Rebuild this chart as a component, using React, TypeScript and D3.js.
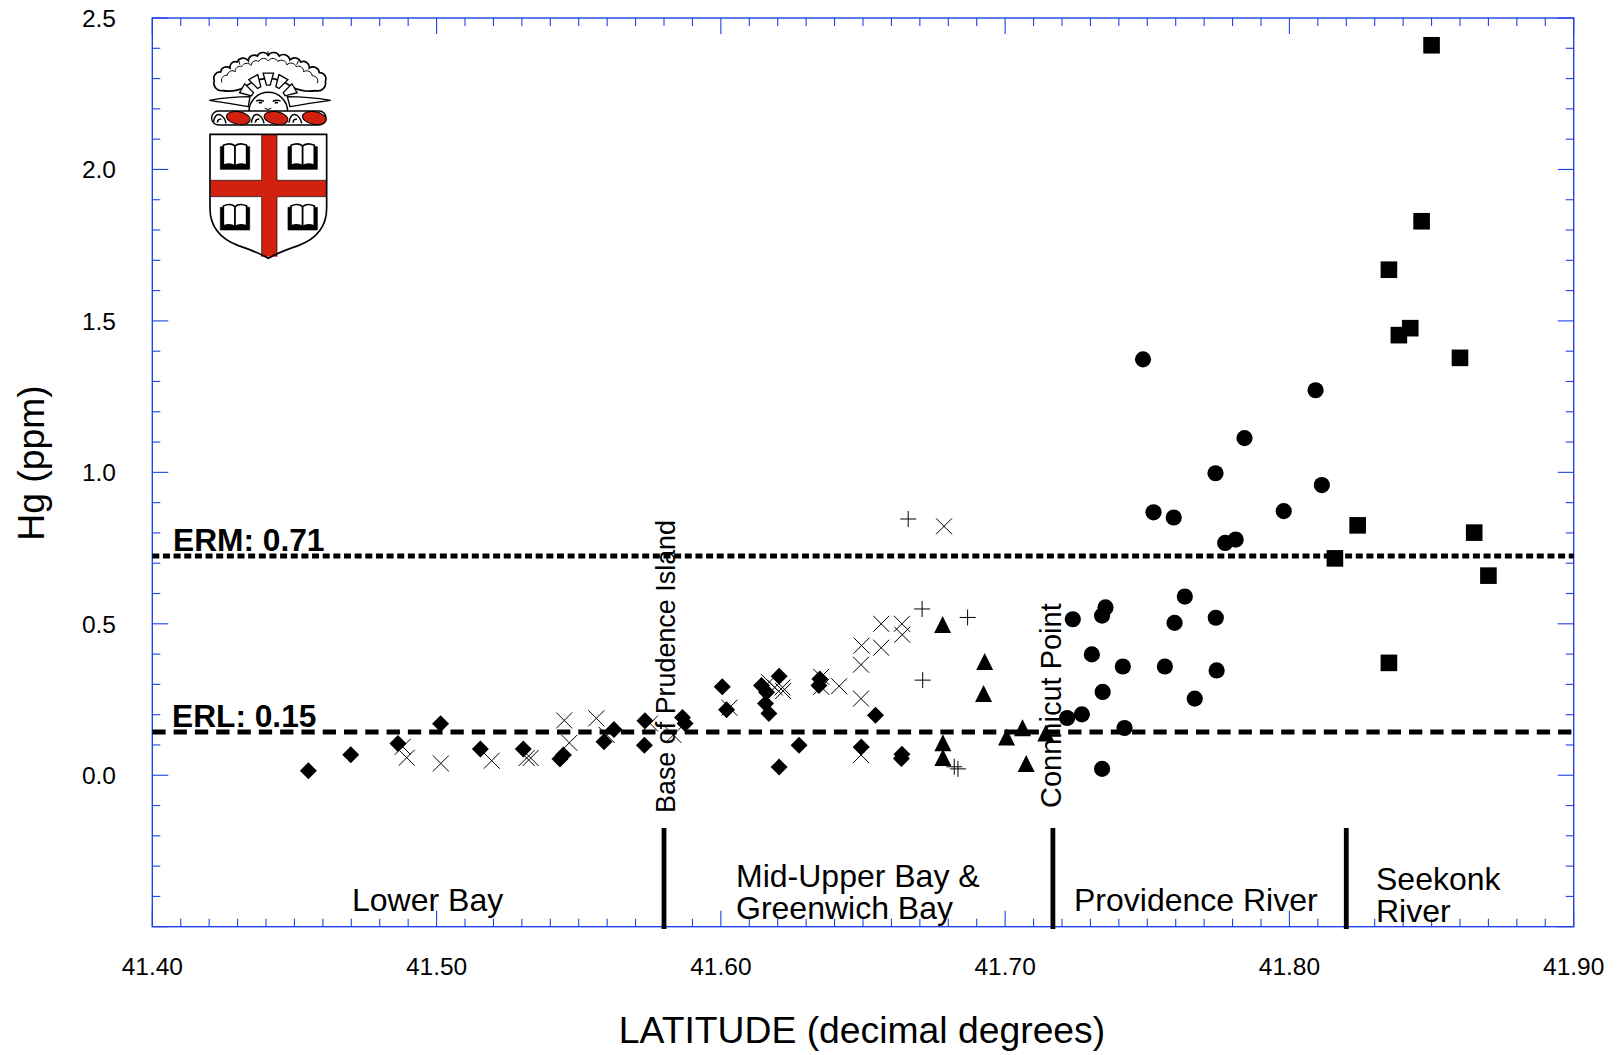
import React from "react";
import * as d3 from "d3";

const W = 1617, H = 1055;
const FONT = "'Liberation Sans', Arial, sans-serif";

const squareLat = [41.850,41.8465,41.835,41.8425,41.8385,41.860,41.824,41.816,41.865,41.870,41.835];
const squareHg = [2.410,1.829,1.669,1.476,1.453,1.378,0.825,0.716,0.801,0.659,0.371];

const circleLat = [41.7485,41.8092,41.7842,41.7740,41.8114,41.7980,41.7522,41.7593,41.7811,41.7774,41.7632,41.7353,41.7341,41.7238,41.7741,41.7596,41.7305,41.7414,41.7562,41.7744,41.7343,41.7667,41.7270,41.7218,41.7420,41.7341];
const circleHg = [1.373,1.271,1.113,0.997,0.958,0.872,0.868,0.851,0.778,0.767,0.590,0.554,0.527,0.515,0.520,0.503,0.399,0.359,0.359,0.346,0.275,0.253,0.201,0.189,0.156,0.021];

const triangleLat = [41.6780,41.6928,41.6924,41.7005,41.7061,41.7143,41.6781,41.6781,41.7074];
const triangleHg = [0.496,0.374,0.268,0.125,0.155,0.138,0.106,0.057,0.037];

const plusLat = [41.6659,41.6708,41.6868,41.6710,41.6821,41.6834];
const plusHg = [0.846,0.549,0.521,0.314,0.028,0.021];

const crossLat = [41.6785,41.6564,41.6637,41.6638,41.6495,41.6564,41.6493,41.6416,41.6353,41.6353,41.6493,41.6493,41.6030,41.6170,41.6190,41.6217,41.6219,41.4881,41.4895,41.5015,41.5194,41.5317,41.5331,41.5449,41.5467,41.5562,41.5598,41.5751,41.5833];
const crossHg = [0.822,0.500,0.500,0.464,0.428,0.421,0.365,0.294,0.325,0.292,0.253,0.067,0.223,0.307,0.290,0.290,0.278,0.094,0.058,0.039,0.048,0.057,0.057,0.181,0.107,0.188,0.133,0.171,0.133];

const diamondLat = [41.4549,41.4698,41.4864,41.5014,41.5154,41.5305,41.5446,41.5434,41.5589,41.5624,41.5733,41.5731,41.5865,41.5874,41.6005,41.6020,41.6143,41.6161,41.6157,41.6169,41.6205,41.6348,41.6345,41.6544,41.6275,41.6205,41.6494,41.6637,41.6635];
const diamondHg = [0.015,0.068,0.105,0.170,0.087,0.087,0.067,0.054,0.111,0.151,0.180,0.099,0.191,0.171,0.292,0.216,0.296,0.274,0.237,0.204,0.327,0.318,0.296,0.198,0.099,0.027,0.093,0.069,0.055];

const thresholdLines = [
  { hg: 0.7237, dash: "7 3.65" },
  { hg: 0.1426, dash: "13.3 8" },
];
const boundaries = [41.58, 41.7168, 41.82];
const xMajor = ["41.40","41.50","41.60","41.70","41.80","41.90"];
const yMajor = ["0.0","0.5","1.0","1.5","2.0","2.5"];

const x = d3.scaleLinear().domain([41.4, 41.9]).range([152.3, 1573.7]);
const y = d3.scaleLinear().domain([-0.5, 2.5]).range([926.7, 18]);

const zip = (a: number[], b: number[]) => a.map((v, i) => [x(v), y(b[i])]);

const cloudPts = [[128,152],[103,122],[122,96],[150,84],[172,66],[205,62],[232,48],[265,46],[298,48],[330,60],[362,66],[388,84],[418,98],[436,124],[408,152]];
const scallop = (pts: number[][], k: number) =>
  pts.map((p, i) => {
    const px = 265 + (p[0] - 265) * k, py = 165 + (p[1] - 165) * k;
    if (i === 0) return `M${px} ${py}`;
    const q = pts[i - 1];
    const r = Math.hypot(p[0] - q[0], p[1] - q[1]) * k * 0.58;
    return `A${r} ${r} 0 0 1 ${px} ${py}`;
  }).join("");

function Logo() {
  const rays = d3.range(5).map((i) => (-150 + i * 30) * Math.PI / 180);
  const red = "#d3210f";
  const book = (cx: number, cy: number, k: number) => (
    <g key={k} fill="#fff" stroke="#000" strokeLinejoin="round">
      <path d={`M${cx-44} ${cy-30} V${cy+38} H${cx+44} V${cy-30} Z`} fill="#000" strokeWidth={2}/>
      <path d={`M${cx-35} ${cy-34} Q${cx-14} ${cy-44} ${cx} ${cy-32} V${cy+28} Q${cx-14} ${cy+18} ${cx-35} ${cy+26} Z`} strokeWidth={5}/>
      <path d={`M${cx+35} ${cy-34} Q${cx+14} ${cy-44} ${cx} ${cy-32} V${cy+28} Q${cx+14} ${cy+18} ${cx+35} ${cy+26} Z`} strokeWidth={5}/>
    </g>
  );
  const c = [265, 190];
  const p = (ang: number, r: number) => `${c[0] + r * Math.cos(ang)} ${c[1] + r * Math.sin(ang)}`;
  return (
    <g transform="translate(180,40) scale(0.3333)">
      <path d={scallop(cloudPts, 1) + "Q370 158 335 140 Q265 90 195 140 Q165 158 128 152Z"} fill="#fff" stroke="#000" strokeWidth={5}/>
      <path d={scallop(cloudPts.slice(1, -1), 0.86)} fill="none" stroke="#000" strokeWidth={3}/>
      <path d="M264 34 V48 M176 62 L180 74 M356 62 L350 74" stroke="#000" strokeWidth={3}/>
      <path d="M88 181 Q150 170 210 170 L205 200 Q150 190 88 181 Z" fill="#fff" stroke="#000" strokeWidth={4}/>
      <path d="M452 181 Q385 170 322 170 L330 200 Q385 190 452 181 Z" fill="#fff" stroke="#000" strokeWidth={4}/>
      {rays.map((a, i) => {
        const d = 0.17;
        return <path key={i} d={`M${p(a-d*0.6,55)} L${p(a-d,92)} L${p(a+d,92)} L${p(a+d*0.6,55)} Z`} fill="#fff" stroke="#000" strokeWidth={4}/>;
      })}
      <path d="M207 215 A58 58 0 1 1 323 215 Z" fill="#fff" stroke="#000" strokeWidth={4.5}/>
      <path d="M228 183 Q240 178 252 184 M278 184 Q290 178 302 183" fill="none" stroke="#000" strokeWidth={4}/>
      <path d="M236 188 h10 M284 188 h10" stroke="#000" strokeWidth={5}/>
      <path d="M254 205 Q264 212 274 205" fill="none" stroke="#000" strokeWidth={3}/>
      <rect x={95} y={213} width={343} height={42} rx={20} fill="#fff" stroke="#000" strokeWidth={4}/>
      {[175, 288, 403].map((cx) => (
        <ellipse key={cx} cx={cx} cy={234} rx={36} ry={19} fill={red} stroke="#000" strokeWidth={3} transform={`rotate(10 ${cx} 234)`}/>
      ))}
      {[118, 232, 345].map((cx) => (
        <path key={cx} d={`M${cx-18} 248 Q${cx-14} 220 ${cx+2} 224 Q${cx+16} 230 ${cx+20} 250 M${cx-6} 248 Q${cx-4} 235 ${cx+6} 238`} fill="none" stroke="#000" strokeWidth={4.5}/>
      ))}
      <path d="M90 283 H440 V505 Q440 585 355 617 Q300 635 265 655 Q230 635 175 617 Q90 585 90 505 Z" fill="#fff"/>
      <rect x={245} y={285} width={46} height={365} fill={red}/>
      <rect x={92} y={421} width={346} height={49} fill={red}/>
      <path d="M90 283 H440 V505 Q440 585 355 617 Q300 635 265 655 Q230 635 175 617 Q90 585 90 505 Z" fill="none" stroke="#000" strokeWidth={5}/>
      <path d="M92 421 H245 V285 M291 285 V421 H438 M92 470 H245 V650 M291 650 V470 H438" fill="none" stroke="#000" strokeWidth={2}/>
      {[[165,350],[368,350],[165,532],[368,532]].map((b, i) => book(b[0], b[1], i))}
    </g>
  );
}

export default function App() {
  const axis = "#2142e6";
  const [x0, x1] = x.range();
  const [yb, yt] = y.range();
  const xTicks = d3.range(0, 51).map((i) => ({ v: 41.4 + i * 0.01, major: i % 10 === 0 }));
  const yTicks = d3.range(0, 31).map((i) => ({ v: -0.5 + i * 0.1, major: i % 5 === 0 }));
  const diamond = d3.symbol(d3.symbolSquare, 17 * 17 / 2)();
  return (
    <svg width={W} height={H} viewBox={`0 0 ${W} ${H}`} style={{ position: "absolute", left: 0, top: 0, background: "#fff" }} fontFamily={FONT}>
      <Logo />
      <g stroke={axis} strokeWidth={1.1} fill="none">
        <rect x={x0} y={yt} width={x1 - x0} height={yb - yt} strokeWidth={1.4}/>
        {xTicks.map((t, i) => {
          const l = t.major ? 16 : 8;
          return <g key={i}><line x1={x(t.v)} x2={x(t.v)} y1={yb} y2={yb - l}/><line x1={x(t.v)} x2={x(t.v)} y1={yt} y2={yt + l}/></g>;
        })}
        {yTicks.map((t, i) => {
          const l = t.major ? 16 : 8;
          return <g key={i}><line y1={y(t.v)} y2={y(t.v)} x1={x0} x2={x0 + l}/><line y1={y(t.v)} y2={y(t.v)} x1={x1} x2={x1 - l}/></g>;
        })}
      </g>
      <g fontSize={24.5} fill="#000">
        {xMajor.map((s) => <text key={s} x={x(+s)} y={975} textAnchor="middle">{s}</text>)}
        {yMajor.map((s) => <text key={s} x={116} y={y(+s) + 9} textAnchor="end">{s}</text>)}
      </g>
      <text x={862} y={1043} fontSize={37.3} textAnchor="middle">LATITUDE (decimal degrees)</text>
      <text transform="translate(44,463) rotate(-90)" fontSize={37.3} textAnchor="middle">Hg (ppm)</text>

      {thresholdLines.map((l, i) => (
        <line key={i} x1={x0} x2={x1} y1={y(l.hg)} y2={y(l.hg)} stroke="#000" strokeWidth={5} strokeDasharray={l.dash}/>
      ))}
      <text x={173} y={551} fontSize={31.7} fontWeight="bold">ERM: 0.71</text>
      <text x={172} y={727} fontSize={31.7} fontWeight="bold">ERL: 0.15</text>

      <g fill="none" stroke="#000" strokeWidth={1}>
        {zip(crossLat, crossHg).map(([px, py], i) => (
          <path key={i} d={`M${px-8} ${py-8}L${px+8} ${py+8}M${px-8} ${py+8}L${px+8} ${py-8}`}/>
        ))}
        {zip(plusLat, plusHg).map(([px, py], i) => (
          <path key={i} d={`M${px-8} ${py}H${px+8}M${px} ${py-8}V${py+8}`}/>
        ))}
      </g>
      <g fill="#000">
        {zip(diamondLat, diamondHg).map(([px, py], i) => (
          <path key={i} d={diamond!} transform={`translate(${px},${py}) rotate(45)`}/>
        ))}
        {zip(triangleLat, triangleHg).map(([px, py], i) => (
          <path key={i} d={`M${px} ${py-9}L${px+8.5} ${py+8}L${px-8.5} ${py+8}Z`}/>
        ))}
        {zip(circleLat, circleHg).map(([px, py], i) => (
          <circle key={i} cx={px} cy={py} r={8.1}/>
        ))}
        {zip(squareLat, squareHg).map(([px, py], i) => (
          <rect key={i} x={px - 8.3} y={py - 8.3} width={16.6} height={16.6}/>
        ))}
      </g>

      {boundaries.map((b) => (
        <line key={b} x1={x(b)} x2={x(b)} y1={828} y2={929} stroke="#000" strokeWidth={4.8}/>
      ))}
      <g fontSize={32} fill="#000">
        <text x={352} y={911}>Lower Bay</text>
        <text x={736} y={887}>Mid-Upper Bay &amp;</text>
        <text x={736} y={919}>Greenwich Bay</text>
        <text x={1074} y={911}>Providence River</text>
        <text x={1376} y={890}>Seekonk</text>
        <text x={1376} y={922}>River</text>
        <text transform="translate(675,813) rotate(-90)" fontSize={26.9}>Base of Prudence Island</text>
        <text transform="translate(1061,808) rotate(-90)" fontSize={29}>Connnicut Point</text>
      </g>
    </svg>
  );
}
